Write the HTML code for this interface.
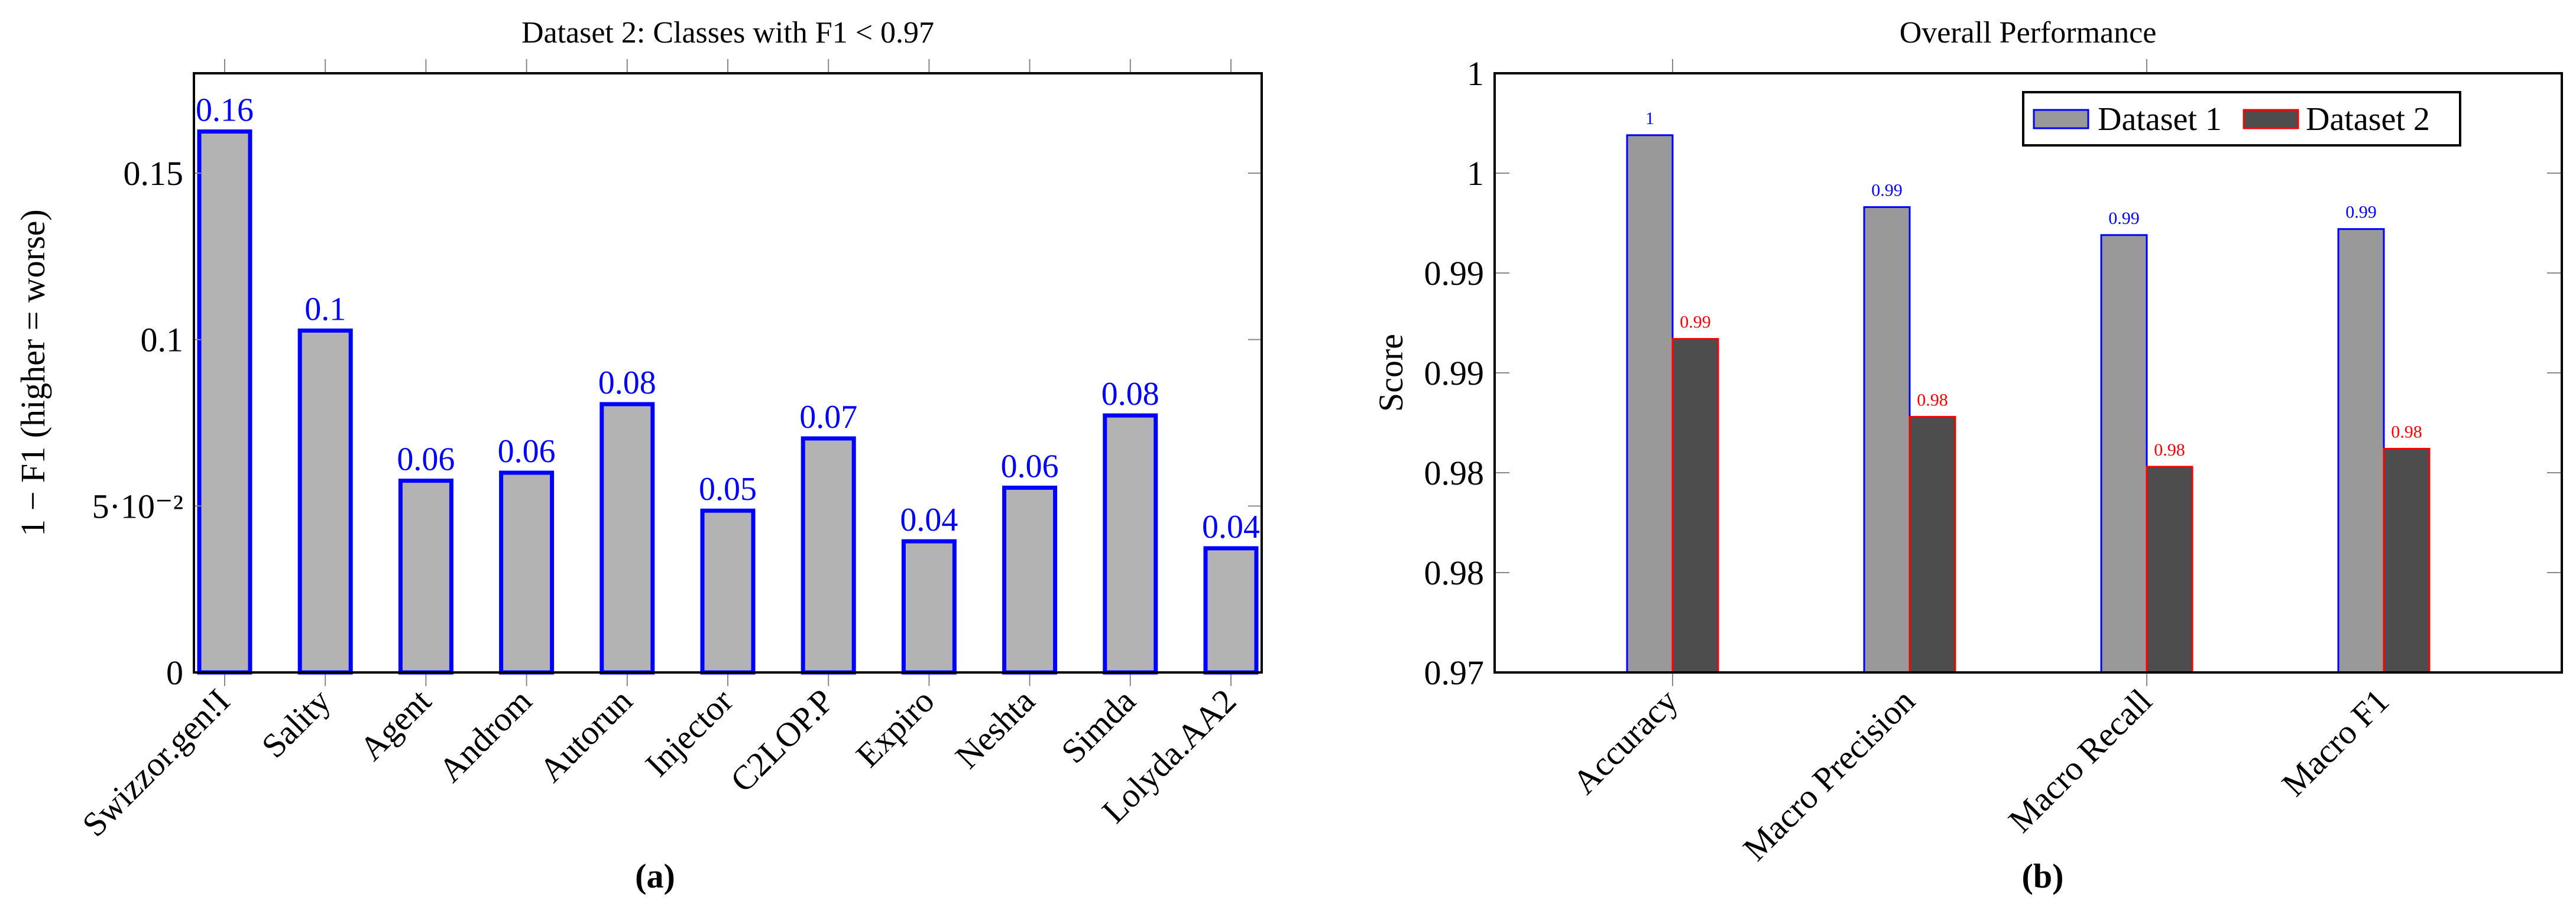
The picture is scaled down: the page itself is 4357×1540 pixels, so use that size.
<!DOCTYPE html>
<html><head><meta charset="utf-8"><style>
html,body{margin:0;padding:0;background:#fff;}
svg, svg text{font-family:"Liberation Serif","DejaVu Serif",serif;}
</style></head><body>
<svg id="fig" width="4357" height="1535" viewBox="0 0 4357 1535" xmlns="http://www.w3.org/2000/svg" font-family="Liberation Serif, DejaVu Serif, serif">
<g id="chartA"></g>
<g id="chartB"></g>
</svg>
<script>
const catsA = ["Swizzor.gen!I","Sality","Agent","Androm","Autorun","Injector","C2LOP.P","Expiro","Neshta","Simda","Lolyda.AA2"];
const valsA = [0.1625,0.1027,0.0576,0.0600,0.0806,0.0486,0.0703,0.0394,0.0555,0.0772,0.0373];
const labelsA = ["0.16","0.1","0.06","0.06","0.08","0.05","0.07","0.04","0.06","0.08","0.04"];
const ticksA = [0,0.05,0.1,0.15];
const tickLabelsA = ["0","5·10\u207B\u00B2","0.1","0.15"];

const catsB = ["Accuracy","Macro Precision","Macro Recall","Macro F1"];
const ds1B = [0.9969,0.9933,0.9919,0.9922];
const ds2B = [0.9867,0.9828,0.9803,0.9812];
const ds1Labels = ["1","0.99","0.99","0.99"];
const ds2Labels = ["0.99","0.98","0.98","0.98"];
const ticksB = [0.97,0.975,0.98,0.985,0.99,0.995,1.0];
const tickLabelsB = ["0.97","0.98","0.98","0.99","0.99","1","1"];

const NS="http://www.w3.org/2000/svg";
const FF="Liberation Serif, DejaVu Serif, serif";
function mk(parent,tag,attrs,text){const e=document.createElementNS(NS,tag);for(const k in attrs)e.setAttribute(k,attrs[k]);if(tag==='text')e.setAttribute('font-family',FF);if(text!==undefined)e.textContent=text;parent.appendChild(e);return e;}

// ---------- Chart A ----------
(function(){
const g=document.getElementById('chartA');
const L=328,R=2134,T=124,B=1138,ymax=0.18;
const step=(R-L-104)/(catsA.length-1);
const xA=i=>L+52+i*step;
const yA=v=>B-(v/ymax)*(B-T);
const bw=86;
let t=mk(g,'text',{x:1231,y:72,'font-size':52,'text-anchor':'middle'},"Dataset 2: Classes with F1 < 0.97");


catsA.forEach((c,i)=>{
  const x=xA(i);
  let tk=mk(g,'line',{x1:x,y1:100,x2:x,y2:T,stroke:'#888','stroke-width':2});
  
  
  let tb=mk(g,'line',{x1:x,y1:B,x2:x,y2:B+23,stroke:'#888','stroke-width':2});
  
  
  const y=yA(valsA[i]);
  let r=mk(g,'rect',{x:x-bw/2,y:y,width:bw,height:B-y,fill:'#b3b3b3',stroke:'#0000ff','stroke-width':7});
  
  
  let vl=mk(g,'text',{x:x,y:y-18,'font-size':56,'text-anchor':'middle',fill:'#0000ff'},labelsA[i]);
  
  
  let xl=mk(g,'text',{x:0,y:0,'font-size':58,'text-anchor':'end',transform:`translate(${x+12},${B+52}) rotate(-45)`},c);
  
  
});
ticksA.forEach((v,i)=>{
  const y=yA(v);
  if(i>0){
    let a=mk(g,'line',{x1:L,y1:y,x2:L+12,y2:y,stroke:'#888','stroke-width':2});
    
    
    let b=mk(g,'line',{x1:R-23,y1:y,x2:R,y2:y,stroke:'#888','stroke-width':2});
    
    
  }
  let tl=mk(g,'text',{x:L-18,y:y+20,'font-size':58,'text-anchor':'end'},tickLabelsA[i]);
  
  
});
let f=mk(g,'rect',{x:L,y:T,width:R-L,height:B-T,fill:'none',stroke:'#000','stroke-width':4});


let yl=mk(g,'text',{x:0,y:0,'font-size':58,'text-anchor':'middle',transform:'translate(75,631) rotate(-90)'},"1 − F1 (higher = worse)");


let cap=mk(g,'text',{x:1108,y:1502,'font-size':58,'font-weight':'bold','text-anchor':'middle'},"(a)");


})();

// ---------- Chart B ----------
(function(){
const g=document.getElementById('chartB');
const L=2528,R=4333,T=124,B=1138,ymin=0.97,ymax=1.0;
const step=401;
const xB=i=>2829+i*step;
const yB=v=>B-(v-ymin)/(ymax-ymin)*(B-T);
const bw=77;
let t=mk(g,'text',{x:3430,y:72,'font-size':52,'text-anchor':'middle'},"Overall Performance");


catsB.forEach((c,i)=>{
  const x=xB(i);
  if(i%2===0){
    let tk=mk(g,'line',{x1:x,y1:100,x2:x,y2:T,stroke:'#888','stroke-width':2});
    
    
    let tb=mk(g,'line',{x1:x,y1:B,x2:x,y2:B+23,stroke:'#888','stroke-width':2});
    
    
  }
  const y1=yB(ds1B[i]), y2=yB(ds2B[i]);
  let r1=mk(g,'rect',{x:x-bw,y:y1,width:bw,height:B-y1,fill:'#999999',stroke:'#0000ff','stroke-width':3});
  
  
  let r2=mk(g,'rect',{x:x,y:y2,width:bw,height:B-y2,fill:'#4d4d4d',stroke:'#ff0000','stroke-width':3});
  
  
  let l1=mk(g,'text',{x:x-bw/2,y:y1-19,'font-size':30,'text-anchor':'middle',fill:'#0000ff'},ds1Labels[i]);
  
  
  let l2=mk(g,'text',{x:x+bw/2,y:y2-19,'font-size':30,'text-anchor':'middle',fill:'#ff0000'},ds2Labels[i]);
  
  
  let xl=mk(g,'text',{x:0,y:0,'font-size':58,'text-anchor':'end',transform:`translate(${x+12},${B+52}) rotate(-45)`},c);
  
  
});
ticksB.forEach((v,i)=>{
  const y=yB(v);
  if(i>0&&i<ticksB.length-1){
    let a=mk(g,'line',{x1:L,y1:y,x2:L+25,y2:y,stroke:'#888','stroke-width':2});
    
    
    let b=mk(g,'line',{x1:R-25,y1:y,x2:R,y2:y,stroke:'#888','stroke-width':2});
    
    
  }
  let tl=mk(g,'text',{x:L-18,y:y+20,'font-size':58,'text-anchor':'end'},tickLabelsB[i]);
  
  
});
let f=mk(g,'rect',{x:L,y:T,width:R-L,height:B-T,fill:'none',stroke:'#000','stroke-width':4});


let yl=mk(g,'text',{x:0,y:0,'font-size':58,'text-anchor':'middle',transform:'translate(2372,631) rotate(-90)'},"Score");


// legend
let lg=mk(g,'g',{});


let lb=mk(lg,'rect',{x:3422,y:156,width:739,height:90,fill:'#fff',stroke:'#000','stroke-width':4});


let s1=mk(lg,'rect',{x:3440,y:186,width:92,height:31,fill:'#999999',stroke:'#0000ff','stroke-width':3});


let t1=mk(lg,'text',{x:3548,y:220,'font-size':56},"Dataset 1");


let s2=mk(lg,'rect',{x:3795,y:186,width:92,height:31,fill:'#4d4d4d',stroke:'#ff0000','stroke-width':3});


let t2=mk(lg,'text',{x:3900,y:220,'font-size':56},"Dataset 2");


let cap=mk(g,'text',{x:3455,y:1502,'font-size':58,'font-weight':'bold','text-anchor':'middle'},"(b)");


})();
</script>
</body></html>
